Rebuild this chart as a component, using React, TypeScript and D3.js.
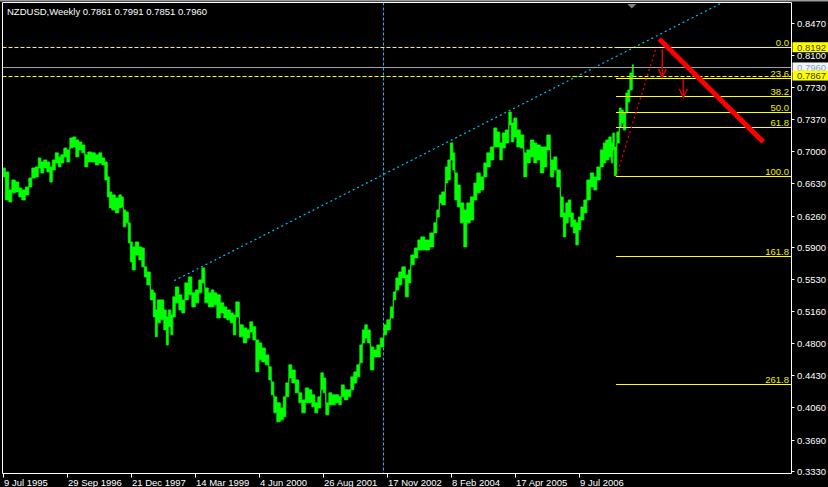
import React, { useEffect } from 'react';
import * as d3 from 'd3';

const W = 828;
const H = 487;
const plot = { left: 2.5, top: 2.5, right: 791.5, bottom: 473.5 };

const title = 'NZDUSD,Weekly  0.7861 0.7991 0.7851 0.7960';

// weekly bar index (0 = 9 Jul 1995) and high / low prices
const weeks = [0,4,7,10,14,17,20,24,27,30,34,36,39,42,45,48,50,54,56,59,62,65,68,71,74,77,80,83,86,90,94,97,100,103,105,107,110,114,117,119,121,124,126,128,130,134,137,140,142,145,149,151,153,155,159,162,164,166,169,170,174,177,180,183,187,190,194,197,200,203,207,209,212,215,219,222,225,229,231,234,238,242,245,248,251,254,257,260,264,267,269,272,275,279,281,284,287,290,294,297,300,304,307,310,313,316,319,321,324,327,330,334,337,339,343,346,349,352,355,358,360,363,365,369,372,375,379,382,385,389,391,394,397,400,404,406,409,413,416,419,424,429,432,435,437,440,444,445,449,450,453,455,459,462,465,469,472,475,479,482,485,489,492,495,498,500,504,507,509,512,515,519,522,525,529,532,535,539,542,545,549,552,555,559,561,564,566,569,571,574,576,579,582,585,589,592,595,599,601,604,607,609,610,612,615,617,619,621,624,625,628,630];

const highs = [0.6807,0.6761,0.6555,0.6669,0.6646,0.6577,0.6555,0.6589,0.6692,0.6807,0.6819,0.6922,0.6876,0.6899,0.6876,0.6819,0.6899,0.6980,0.6934,0.6957,0.7036,0.7014,0.7151,0.7163,0.7128,0.7105,0.7071,0.6957,0.6991,0.6980,0.6957,0.6980,0.6922,0.6876,0.6704,0.6532,0.6498,0.6463,0.6498,0.6475,0.6325,0.6302,0.6177,0.5958,0.5901,0.5958,0.5901,0.5889,0.5672,0.5614,0.5408,0.5374,0.5178,0.5293,0.5293,0.5178,0.5098,0.5178,0.5121,0.5328,0.5442,0.5351,0.5293,0.5488,0.5557,0.5374,0.5408,0.5522,0.5660,0.5430,0.5374,
0.5408,0.5374,0.5351,0.5259,0.5213,0.5178,0.5144,0.5121,0.5270,0.5007,0.4972,0.4949,0.5041,0.4984,0.4834,0.4800,0.4742,0.4662,0.4525,0.4352,0.4181,0.4112,0.4054,0.4181,0.4341,0.4548,0.4490,0.4375,0.4227,0.4146,0.4283,0.4261,0.4204,0.4112,0.4181,0.4456,0.4398,0.4112,0.4227,0.4204,0.4204,0.4181,0.4318,0.4261,0.4261,0.4410,0.4467,0.4548,0.4777,0.4949,0.5007,0.4949,0.4754,0.4719,0.4777,0.4857,0.5007,0.5064,0.5213,0.5385,0.5545,0.5614,0.5672,0.5580,0.5637,0.5809,0.5889,0.5981,0.6016,0.5981,0.6062,0.6177,0.6325,0.6498,0.6532,0.6819,0.6899,0.7094,0.6980,0.6750,0.6612,0.6406,0.6325,0.6406,0.6475,0.6635,0.6750,0.6704,0.6865,0.6980,0.7048,0.7266,0.7220,0.7094,0.7209,0.7243,0.7449,0.7324,0.7380,0.7243,0.7186,0.6980,0.7014,0.7128,0.7094,0.7071,0.7048,0.7048,0.7186,0.6899,0.6934,0.6784,0.6475,0.6291,0.6406,0.6440,0.6291,0.6211,0.6177,0.6245,0.6360,0.6440,0.6669,0.6750,0.6704,0.6819,0.7014,0.7094,0.7128,0.7163,0.7094,0.7209,0.7048,0.7220,0.7495,0.7472,0.7438,0.7668,0.7702,0.7897,0.7991];

const lows = [0.6704,0.6440,0.6417,0.6521,0.6532,0.6475,0.6440,0.6498,0.6589,0.6692,0.6704,0.6807,0.6750,0.6807,0.6761,0.6646,0.6784,0.6865,0.6819,0.6865,0.6934,0.6876,0.7036,0.7048,0.6934,0.7014,0.6980,0.6819,0.6876,0.6876,0.6842,0.6865,0.6842,0.6669,0.6475,0.6348,0.6325,0.6291,0.6348,0.6360,0.6131,0.6177,0.5947,0.5729,0.5637,0.5809,0.5752,0.5672,0.5557,0.5465,0.5293,0.5098,0.4869,0.5030,0.5064,0.4949,0.4777,0.4984,0.4892,0.5098,0.5259,0.5178,0.5144,0.5293,0.5351,0.5213,0.5259,0.5374,0.5488,0.5259,0.5213,
0.5213,0.5236,0.5086,0.5144,0.5086,0.5064,0.5030,0.4892,0.5098,0.4869,0.4800,0.4857,0.4926,0.4834,0.4467,0.4605,0.4582,0.4548,0.4375,0.4204,0.3997,0.3894,0.3917,0.3951,0.4181,0.4398,0.4341,0.4227,0.4112,0.3997,0.4112,0.4112,0.4066,0.3997,0.4054,0.4261,0.4227,0.3974,0.4089,0.4089,0.4112,0.4089,0.4181,0.4146,0.4181,0.4261,0.4341,0.4410,0.4571,0.4800,0.4857,0.4800,0.4490,0.4639,0.4639,0.4754,0.4892,0.4949,0.5086,0.5293,0.5408,0.5465,0.5545,0.5328,0.5488,0.5695,0.5774,0.5866,0.5866,0.5866,0.5901,0.6062,0.6245,0.6406,0.6383,0.6635,0.6669,0.6899,0.6784,0.6440,0.6360,0.6177,0.5901,0.6177,0.6211,0.6440,0.6521,0.6555,0.6704,0.6819,0.6899,0.7048,0.7048,0.6899,0.7036,0.7094,0.7301,0.7105,0.7163,0.7048,0.7036,0.6704,0.6865,0.6934,0.6865,0.6899,0.6750,0.6819,0.7014,0.6704,0.6784,0.6589,0.6245,0.6016,0.6177,0.6245,0.6131,0.6062,0.5924,0.6096,0.6211,0.6291,0.6440,0.6589,0.6555,0.6669,0.6819,0.6865,0.6899,0.6934,0.6865,0.7014,0.6715,0.7094,0.7278,0.7324,0.7243,0.7438,0.7564,0.7702,0.7851];

const priceTicks = [0.8470,0.8100,0.7730,0.7370,0.7000,0.6630,0.6260,0.5900,0.5530,0.5160,0.4800,0.4430,0.4060,0.3690,0.3330];
const dateTickWeeks = [0,64,128,192,256,320,384,448,512,576];
const dateTickLabels = ['9 Jul 1995','29 Sep 1996','21 Dec 1997','14 Mar 1999','4 Jun 2000','26 Aug 2001','17 Nov 2002','8 Feb 2004','17 Apr 2005','9 Jul 2006'];

const fibLevels = [0, 23.6, 38.2, 50.0, 61.8, 100.0, 161.8, 261.8];
const fibHigh = 0.8192;
const fibLow = 0.6715;
const fibStartWeek = 613;
const fibHighWeek = 653;

const dashedLevels = [0.8192, 0.7867];
const bidPrice = 0.7960;

const trendWeeks = [171, 606];
const trendPrices = [0.5514, 0.8046];
const vLineWeek = 380;

const bigLineWeeks = [656, 760];
const bigLinePrices = [0.8287, 0.7105];

const arrowWeeks = [659, 680];
const arrowFrom = [0.8172, 0.7828];
const arrowTo = [0.7851, 0.7621];

const lastWeek = 630;

const FONT = '"Liberation Sans", Arial, sans-serif';

export default function App() {
  useEffect(() => {
    document.body.style.margin = '0';
    document.body.style.background = '#000';
  }, []);

  const x = d3.scaleLinear().domain([0, 788]).range([3.3, 791.3]);
  const y = d3.scaleLinear().domain([0.333, 0.847]).range([471, 23]);

  const bars = weeks.map((w, i) => ({ w, h: highs[i], l: lows[i] }));
  const area = d3.area<any>()
    .x(d => x(d.w))
    .y0(d => y(d.l))
    .y1(d => y(d.h))
    .curve(d3.curveStep);

  const crisp = (v: number) => Math.round(v) + 0.5;

  // trend ray
  const tx0 = x(trendWeeks[0]), ty0 = y(trendPrices[0]);
  const tx1 = x(trendWeeks[1]), ty1 = y(trendPrices[1]);
  const slope = (ty1 - ty0) / (tx1 - tx0);
  const tyEnd = plot.top;
  const txEnd = tx0 + (tyEnd - ty0) / slope;

  const fibX0 = x(fibStartWeek);
  const fibRange = fibHigh - fibLow;

  return (
    <svg width={W} height={H} viewBox={`0 0 ${W} ${H}`}
      style={{ position: 'absolute', left: 0, top: 0, display: 'block', background: '#000' }}
      fontFamily={FONT}>
      <defs>
        <clipPath id="plotClip">
          <rect x={plot.left} y={plot.top} width={plot.right - plot.left} height={plot.bottom - plot.top} />
        </clipPath>
      </defs>
      <rect x={0} y={0} width={W} height={H} fill="#000" />
      <rect x={0} y={0} width={W} height={1.5} fill="#9a9a9a" />

      <g clipPath="url(#plotClip)">
        {/* vertical dashed line */}
        <line x1={crisp(x(vLineWeek))} x2={crisp(x(vLineWeek))} y1={plot.top} y2={plot.bottom}
          stroke="#00bfff" strokeWidth={1} strokeDasharray="3,2" />
        {/* trend ray */}
        <line x1={tx0} y1={ty0} x2={txEnd} y2={tyEnd} stroke="#00bfff" strokeWidth={1.2} strokeDasharray="2,3" />

        {/* price */}
        <path d={area(bars) || ''} fill="#00ff00" stroke="#00ff00" strokeWidth={0.8} />

        {/* dashed horizontal levels */}
        {dashedLevels.map((p, i) => (
          <line key={'dl' + i} x1={plot.left} x2={plot.right} y1={crisp(y(p))} y2={crisp(y(p))}
            stroke="#ffff00" strokeWidth={1} strokeDasharray="4,2" />
        ))}
        {/* bid line */}
        <line x1={plot.left} x2={plot.right} y1={crisp(y(bidPrice))} y2={crisp(y(bidPrice))} stroke="#a0a0a0" strokeWidth={1} />

        {/* fib lines */}
        {fibLevels.map((lv, i) => {
          const p = fibHigh - (lv / 100) * fibRange;
          const yy = crisp(y(p));
          return (
            <g key={'fib' + i}>
              <line x1={Math.round(fibX0)} x2={plot.right} y1={yy} y2={yy} stroke="#ffff00" strokeWidth={1} />
              <text x={789} y={yy - 2} textAnchor="end" fontSize={9.5} fill="#f0f000">{lv.toFixed(1)}</text>
            </g>
          );
        })}
        {/* fib anchor line */}
        <line x1={x(fibStartWeek)} y1={y(fibLow)} x2={x(fibHighWeek)} y2={y(fibHigh)}
          stroke="#ff0000" strokeWidth={1.2} strokeDasharray="2,3" />

        {/* big red line */}
        <line x1={x(bigLineWeeks[0])} y1={y(bigLinePrices[0])} x2={x(bigLineWeeks[1])} y2={y(bigLinePrices[1])}
          stroke="#ff0000" strokeWidth={5} />

        {/* small arrows */}
        {arrowWeeks.map((w, i) => {
          const ax = x(w);
          const y0 = y(arrowFrom[i]);
          const y1 = y(arrowTo[i]);
          return (
            <g key={'ar' + i} stroke="#e00000" strokeWidth={1.5} fill="none">
              <line x1={ax} x2={ax} y1={y0} y2={y1} />
              <polyline points={`${ax - 4},${y1 - 8} ${ax},${y1} ${ax + 4},${y1 - 8}`} />
            </g>
          );
        })}

        {/* shift marker */}
        <polygon points={`${x(lastWeek) - 6},${plot.top + 1.5} ${x(lastWeek) + 3},${plot.top + 1.5} ${x(lastWeek) - 1.5},${plot.top + 6}`} fill="#808080" />
      </g>

      {/* frame */}
      <line x1={plot.left} x2={plot.left} y1={plot.top} y2={plot.bottom} stroke="#fff" strokeWidth={1} />
      <line x1={plot.left} x2={plot.right} y1={plot.top} y2={plot.top} stroke="#fff" strokeWidth={1} />
      <line x1={plot.right} x2={plot.right} y1={plot.top} y2={plot.bottom} stroke="#fff" strokeWidth={1} />
      <line x1={plot.left} x2={plot.right} y1={plot.bottom} y2={plot.bottom} stroke="#fff" strokeWidth={1} />

      {/* title */}
      <text x={7} y={15} fontSize={9.5} fill="#fff">{title}</text>

      {/* price axis */}
      {priceTicks.map((p, i) => {
        const yy = crisp(y(p));
        return (
          <g key={'pt' + i}>
            <line x1={plot.right} x2={plot.right + 3} y1={yy} y2={yy} stroke="#fff" strokeWidth={1} />
            <text x={797} y={yy} dy="0.35em" fontSize={9.5} fill="#fff">{p.toFixed(4)}</text>
          </g>
        );
      })}

      {/* date axis */}
      {dateTickWeeks.map((w, i) => {
        const xx = crisp(x(w));
        return (
          <g key={'dt' + i}>
            <line x1={xx} x2={xx} y1={plot.bottom} y2={plot.bottom + 4} stroke="#fff" strokeWidth={1} />
            <text x={xx + 0.5} y={485.5} fontSize={9.5} fill="#fff">{dateTickLabels[i]}</text>
          </g>
        );
      })}

      {/* price tags */}
      <g>
        <rect x={792.5} y={y(bidPrice) - 5} width={36} height={10} fill="#f4f4f4" />
        <text x={797} y={y(bidPrice)} dy="0.35em" fontSize={9.5} fill="#7fa7cf">{bidPrice.toFixed(4)}</text>
        {dashedLevels.map((p, i) => (
          <g key={'tag' + i}>
            <rect x={792.5} y={y(p) - 5} width={36} height={10} fill="#ffff00" />
            <text x={797} y={y(p)} dy="0.35em" fontSize={9.5} fill="#3a3a00">{p.toFixed(4)}</text>
          </g>
        ))}
      </g>
    </svg>
  );
}
